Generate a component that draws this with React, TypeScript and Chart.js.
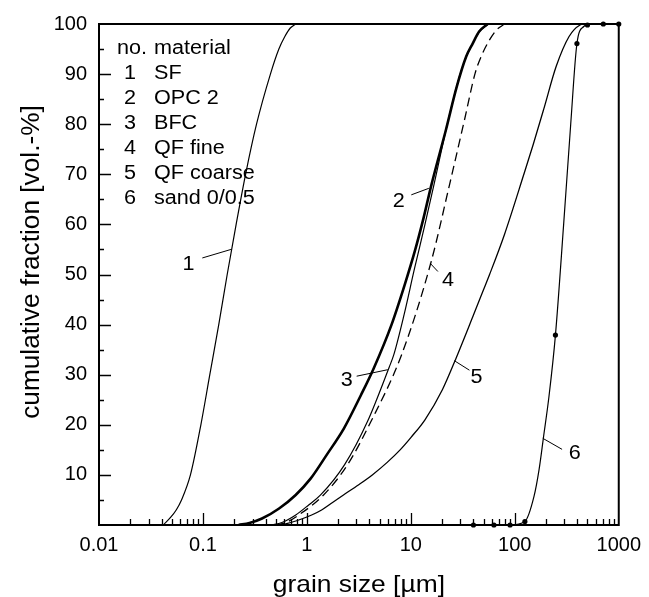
import React, { useEffect, useRef } from "react";
import { Chart, registerables } from "chart.js";

Chart.register(...registerables);

// ---- data ----
const sfX = [0.0414, 0.0488, 0.0553, 0.0622, 0.0758, 0.0955, 0.1164, 0.1419, 0.1711, 0.2086, 0.2571, 0.3276, 0.4457, 0.5375, 0.6134, 0.6923, 0.7815];
const sfY = [0, 1.5, 3, 5, 10, 20, 30, 40, 50, 60, 70, 80, 90, 95, 97.5, 99.2, 100];

const opcX = [0.22, 0.28, 0.37, 0.54, 0.78, 1.09, 1.55, 2.273, 3.305, 4.399, 6.495, 8.708, 10.9, 13.22, 15.77, 21.7, 27.65, 34.08, 39.33, 45.39, 54.7];
const opcY = [0, 0.4, 1.3, 3.3, 6, 9.3, 14, 19.3, 25.9, 31.3, 39.9, 47.9, 54.6, 61.2, 67.9, 78.8, 87.5, 93.5, 96.1, 98.5, 100];

const bfcX = [0.4507, 0.5743, 0.781, 1.04, 1.355, 2.298, 3.814, 6.188, 6.833, 8.61, 10.85, 13.67, 16.67, 22.43, 27.96, 34.08, 39.33, 45.68, 55.94];
const bfcY = [0, 0.5, 2, 4, 6, 12, 20.6, 31.5, 33.9, 42, 51.2, 60, 67.9, 80, 88, 93.5, 96.1, 98.5, 100];

const qfFineX = [0.5, 0.627, 0.835, 1.447, 2.455, 4.119, 8.114, 15.7, 23.54, 32.76, 41.56, 47.41, 55.94, 65.96, 79.56];
const qfFineY = [0, 0.5, 2, 6, 12, 20.6, 33.9, 52.6, 67.9, 80.8, 90.2, 93.5, 96.5, 98.7, 100];

const qfCoarseX = [0.5743, 0.835, 1.111, 1.385, 1.765, 2.248, 3.127, 4.257, 5.922, 7.883, 10.04, 13.67, 20.1, 27.23, 40.2, 50.11, 57.18, 79.56, 122.2, 150.6, 189.8, 249.8, 332.7, 423.9, 473.2];
const qfCoarseY = [0, 1, 2, 3, 4.5, 6, 8, 10, 12.5, 15, 17.5, 21, 27, 33.3, 42, 47, 50, 58, 70, 76, 83, 91.5, 97.5, 99.8, 100];

const sandX = [40, 63, 90, 125, 153, 171, 189, 213, 246, 295, 345, 396, 460, 500, 710, 1000];
const sandY = [0, 0, 0, 0.7, 5.7, 11, 17.6, 25.6, 37.9, 60, 80, 96.1, 99.5, 99.8, 100, 100];

const sandMeasuredX = [40, 63, 90, 125, 246, 396, 500, 710, 1000];
const sandMeasuredY = [0, 0, 0, 0.7, 37.9, 96.1, 99.8, 100, 100];

const xTickValues = [0.01, 0.1, 1, 10, 100, 1000];
const xTickLabels = ["0.01", "0.1", "1", "10", "100", "1000"];
const yTickValues = [10, 20, 30, 40, 50, 60, 70, 80, 90, 100];

const legendHeaderNo = "no.";
const legendHeaderMaterial = "material";
const legendNumbers = ["1", "2", "3", "4", "5", "6"];
const legendMaterials = ["SF", "OPC 2", "BFC", "QF fine", "QF coarse", "sand 0/0.5"];

const xTitle = "grain size [\u00b5m]";
const yTitle = "cumulative fraction [vol.-%]";

// curve number labels, in data coordinates
const curveLabels = [
  { text: "1", at: [0.0725, 52.2], from: [0.0986, 53.3], to: [0.186, 55] },
  { text: "2", at: [7.63, 64.9], from: [10.1, 65.9], to: [14.9, 67.2] },
  { text: "3", at: [2.42, 29.1], from: [3.01, 29.7], to: [6.0, 31.0] },
  { text: "4", at: [22.8, 49.2], from: [15.4, 52.2], to: [18.2, 50.6] },
  { text: "5", at: [42.8, 29.7], from: [26.2, 32.8], to: [36.6, 30.9] },
  { text: "6", at: [378, 14.6], from: [186, 17.3], to: [285, 15.1] },
];

const FONT = "'Liberation Sans', Arial, Helvetica, sans-serif";

const pts = (xs: number[], ys: number[]) => xs.map((x, i) => ({ x, y: ys[i] }));

function stretchText(ctx: CanvasRenderingContext2D, s: string, x: number, y: number, align: CanvasTextAlign, sx: number) {
  ctx.save();
  ctx.translate(x, y);
  ctx.scale(sx, 1);
  ctx.textAlign = align;
  ctx.textBaseline = "alphabetic";
  ctx.fillText(s, 0, 0);
  ctx.restore();
}

const decorPlugin = {
  id: "decor",
  afterDatasetsDraw(chart: any) {
    const { ctx, chartArea: a } = chart;
    const xs = chart.scales.x;
    const ys = chart.scales.y;
    ctx.save();
    ctx.strokeStyle = "#000";
    ctx.fillStyle = "#000";

    // frame
    ctx.lineWidth = 2;
    ctx.strokeRect(a.left, a.top, a.right - a.left, a.bottom - a.top);

    // inward ticks
    ctx.lineWidth = 1.3;
    ctx.beginPath();
    for (let e = -2; e < 3; e++) {
      const d = Math.pow(10, e);
      for (let k = 1; k < 10; k++) {
        if (k === 1 && e === -2) continue;
        const px = Math.round(xs.getPixelForValue(k * d)) + 0.5;
        const len = k === 1 ? 12 : 6;
        ctx.moveTo(px, a.bottom);
        ctx.lineTo(px, a.bottom - len);
      }
    }
    for (let v = 5; v < 100; v += 5) {
      const py = Math.round(ys.getPixelForValue(v)) + 0.5;
      const len = v % 10 === 0 ? 12 : 5;
      ctx.moveTo(a.left, py);
      ctx.lineTo(a.left + len, py);
    }
    ctx.stroke();

    // legend
    ctx.font = `20px ${FONT}`;
    const lx = a.left;
    const ly = a.top;
    stretchText(ctx, legendHeaderNo, lx + 18, ly + 30, "left", 1.08);
    stretchText(ctx, legendHeaderMaterial, lx + 55, ly + 30, "left", 1.08);
    legendNumbers.forEach((n, i) => {
      const by = ly + 30 + 25 * (i + 1);
      stretchText(ctx, n, lx + 31, by, "center", 1.08);
      stretchText(ctx, legendMaterials[i], lx + 55, by, "left", 1.08);
    });

    // curve labels with leader lines
    ctx.lineWidth = 1;
    curveLabels.forEach((c) => {
      ctx.beginPath();
      ctx.moveTo(xs.getPixelForValue(c.from[0]), ys.getPixelForValue(c.from[1]));
      ctx.lineTo(xs.getPixelForValue(c.to[0]), ys.getPixelForValue(c.to[1]));
      ctx.stroke();
      stretchText(ctx, c.text, xs.getPixelForValue(c.at[0]), ys.getPixelForValue(c.at[1]) + 7, "center", 1.08);
    });

    // axis titles
    ctx.font = `24px ${FONT}`;
    stretchText(ctx, xTitle, (a.left + a.right) / 2, 592, "center", 1.1);
    ctx.save();
    ctx.translate(39, 262);
    ctx.rotate(-Math.PI / 2);
    ctx.font = `25px ${FONT}`;
    stretchText(ctx, yTitle, 0, 0, "center", 1.05);
    ctx.restore();

    ctx.restore();
  },
};

export default function App() {
  const ref = useRef<HTMLCanvasElement | null>(null);

  useEffect(() => {
    if (!ref.current) return;
    const thin = { borderColor: "#000", backgroundColor: "#000", pointRadius: 0, fill: false, cubicInterpolationMode: "monotone" as const };
    const chart = new Chart(ref.current, {
      type: "line",
      data: {
        datasets: [
          { ...thin, label: "SF", data: pts(sfX, sfY), borderWidth: 1.2 },
          { ...thin, label: "OPC 2", data: pts(opcX, opcY), borderWidth: 2.6 },
          { ...thin, label: "BFC", data: pts(bfcX, bfcY), borderWidth: 1.2 },
          { ...thin, label: "QF fine", data: pts(qfFineX, qfFineY), borderWidth: 1.3, borderDash: [9, 5] },
          { ...thin, label: "QF coarse", data: pts(qfCoarseX, qfCoarseY), borderWidth: 1.3 },
          { ...thin, label: "sand 0/0.5", data: pts(sandX, sandY), borderWidth: 1.2 },
          {
            label: "sand 0/0.5 measured",
            data: pts(sandMeasuredX, sandMeasuredY),
            showLine: false,
            pointRadius: 2.6,
            pointBackgroundColor: "#000",
            pointBorderColor: "#000",
            pointBorderWidth: 0,
            borderColor: "#000",
            clip: false as any,
          },
        ],
      },
      options: {
        animation: false,
        responsive: false,
        maintainAspectRatio: false,
        layout: { padding: { top: 24, right: 27, left: 0, bottom: 0 } },
        plugins: { legend: { display: false }, tooltip: { enabled: false } },
        scales: {
          x: {
            type: "logarithmic",
            min: 0.01,
            max: 1000,
            grid: { display: false, drawTicks: false },
            border: { display: false },
            afterBuildTicks: (s: any) => {
              s.ticks = xTickValues.map((v) => ({ value: v }));
            },
            afterFit: (s: any) => {
              s.height = 72;
            },
            ticks: {
              autoSkip: false,
              maxRotation: 0,
              minRotation: 0,
              padding: 8,
              color: "#000",
              font: { family: FONT, size: 20 },
              callback: (v: any) => {
                const i = xTickValues.findIndex((t) => Math.abs(t - Number(v)) / t < 1e-6);
                return i >= 0 ? xTickLabels[i] : "";
              },
            },
          },
          y: {
            type: "linear",
            min: 0,
            max: 100,
            grid: { display: false, drawTicks: false },
            border: { display: false },
            afterBuildTicks: (s: any) => {
              s.ticks = yTickValues.map((v) => ({ value: v }));
            },
            afterFit: (s: any) => {
              s.width = 99;
            },
            ticks: {
              autoSkip: false,
              padding: 12,
              color: "#000",
              font: { family: FONT, size: 20 },
              callback: (v: any) => String(v),
            },
          },
        },
      },
      plugins: [decorPlugin],
    });
    return () => chart.destroy();
  }, []);

  return (
    <div style={{ position: "fixed", left: 0, top: 0, width: 649, height: 597, background: "#fff" }}>
      <canvas ref={ref} width={649} height={597} style={{ display: "block" }} />
    </div>
  );
}
